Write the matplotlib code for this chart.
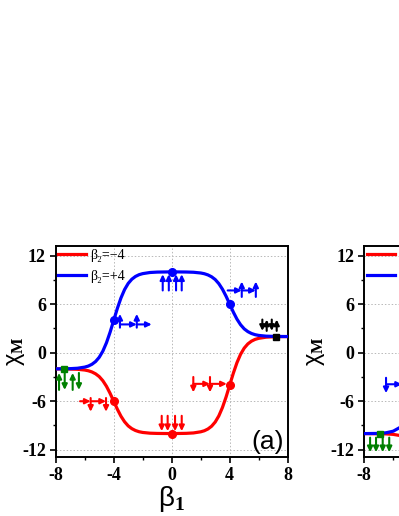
import matplotlib
matplotlib.use("Agg")
import matplotlib.pyplot as plt
from matplotlib.ticker import MultipleLocator

plt.rcParams['mathtext.fontset'] = 'custom'
plt.rcParams['mathtext.rm'] = 'Liberation Sans'
plt.rcParams['mathtext.it'] = 'Liberation Sans:italic'
plt.rcParams['mathtext.bf'] = 'Liberation Serif:bold'

# ---------------- data ----------------
beta1 = [-8, -7, -6.5, -6, -5.75, -5.5, -5.25, -5, -4.75, -4.5, -4.25, -4,
         -3.75, -3.5, -3.25, -3, -2.75, -2.5, -2.25, -2, -1.5, -1, 0,
         1, 1.5, 2, 2.25, 2.5, 2.75, 3, 3.25, 3.5, 3.75, 4, 4.25, 4.5, 4.75,
         5, 5.25, 5.5, 5.75, 6, 6.5, 7, 8]
chi_blue = [-2.0, -1.97, -1.92, -1.78, -1.65, -1.43, -1.09, -0.57, 0.19, 1.23, 2.53, 4.0,
            5.47, 6.77, 7.81, 8.57, 9.09, 9.43, 9.65, 9.78, 9.92, 9.97, 10.0,
            9.98, 9.95, 9.86, 9.77, 9.62, 9.39, 9.05, 8.54, 7.85, 6.98, 6.0, 5.02, 4.15, 3.46,
            2.95, 2.61, 2.38, 2.23, 2.14, 2.05, 2.02, 2.0]
chi_red = [-2.0, -2.02, -2.05, -2.14, -2.23, -2.38, -2.61, -2.95, -3.46, -4.15, -5.02, -6.0,
           -6.98, -7.85, -8.54, -9.05, -9.39, -9.62, -9.77, -9.86, -9.95, -9.98, -10.0,
           -9.97, -9.92, -9.78, -9.65, -9.43, -9.09, -8.57, -7.81, -6.77, -5.47, -4.0, -2.53, -1.23, -0.19,
           0.57, 1.09, 1.43, 1.65, 1.78, 1.92, 1.97, 2.0]

# panel (b) (only its left edge is visible)
beta1_b = [-8, -7, -6.5, -6, -5.5, -5]
chi_blue_b = [-10.0, -9.98, -9.9, -9.7, -9.2, -8.3]
chi_red_b = [-10.0, -10.02, -10.04, -10.1, -10.25, -10.6]

legend_labels = ['β₂=−4', 'β₂=+4']
xticks = [-8, -4, 0, 4, 8]
yticks = [-12, -6, 0, 6, 12]

# highlighted states (x, chi)
dots_blue = [(-4, 4), (0, 10), (4, 6)]
dots_red = [(-4, -6), (0, -10), (4, -4)]
sq_green = (-7.41, -2.0)
sq_black = (7.17, 2.0)
sq_green_b = (-6.92, -10.0)

# spin-arrow glyphs: (x_tail, y_tail, x_head, y_head, colour)
spins_a = [
    # green, left end
    (-7.77, -4.6, -7.77, -2.5, 'green'), (-7.38, -2.5, -7.38, -4.6, 'green'),
    (-6.83, -4.6, -6.83, -2.5, 'green'), (-6.40, -2.5, -6.40, -4.6, 'green'),
    # blue at beta1=-4
    (-3.57, 3.1, -3.57, 4.8, 'blue'), (-2.41, 3.1, -2.41, 4.8, 'blue'),
    (-3.57, 3.5, -2.41, 3.5, 'blue'), (-2.41, 3.5, -1.38, 3.5, 'blue'),
    # blue at 0
    (-0.62, 7.7, -0.62, 9.7, 'blue'), (-0.2, 7.7, -0.2, 9.7, 'blue'),
    (0.3, 7.7, 0.3, 9.7, 'blue'), (0.69, 7.7, 0.69, 9.7, 'blue'),
    # blue at 4
    (3.86, 7.7, 4.83, 7.7, 'blue'), (4.83, 7.7, 5.8, 7.7, 'blue'),
    (4.83, 6.9, 4.83, 8.8, 'blue'), (5.8, 6.9, 5.8, 8.8, 'blue'),
    # black, right end
    (6.25, 4.1, 6.25, 2.7, 'black'), (6.55, 2.7, 6.55, 4.1, 'black'),
    (6.9, 4.1, 6.9, 2.7, 'black'), (7.24, 2.7, 7.24, 4.1, 'black'),
    # red at -4
    (-6.32, -6.0, -5.59, -6.0, 'red'), (-5.59, -6.0, -4.53, -6.0, 'red'),
    (-5.59, -5.6, -5.59, -7.3, 'red'), (-4.53, -5.6, -4.53, -7.3, 'red'),
    # red at 0
    (-0.69, -7.8, -0.69, -9.7, 'red'), (-0.28, -7.8, -0.28, -9.7, 'red'),
    (0.23, -7.8, 0.23, -9.7, 'red'), (0.69, -7.8, 0.69, -9.7, 'red'),
    # red at 4
    (1.49, -3.0, 1.49, -4.9, 'red'), (2.64, -3.0, 2.64, -4.9, 'red'),
    (1.49, -3.85, 2.64, -3.85, 'red'), (2.64, -3.85, 3.8, -3.85, 'red'),
]
spins_b = [
    (-7.6, -10.5, -7.6, -12.3, 'green'), (-7.19, -10.5, -7.19, -12.3, 'green'),
    (-6.73, -10.5, -6.73, -12.3, 'green'), (-6.28, -10.5, -6.28, -12.3, 'green'),
    (-6.5, -3.1, -6.5, -5.0, 'blue'), (-6.5, -3.9, -5.4, -3.9, 'blue'),
]

GREEN = '#008000'
cmap = {'green': GREEN, 'blue': '#0000ff', 'red': '#ff0000', 'black': 'black'}

fig = plt.figure(figsize=(3.99, 5.16), dpi=100)
ax = fig.add_axes([0.1396, 0.1138, 0.5815, 0.4095])
axb = fig.add_axes([0.9130, 0.1138, 0.5815, 0.4095])

tick_font = dict(family='Liberation Serif', weight='bold', size=13)


def style(a, xlabels, ylab_x):
    a.set_xlim(-8, 8)
    a.set_ylim(-12.93, 13.2)
    a.set_xticks(xticks)
    a.set_yticks(yticks)
    a.set_xticklabels(xlabels, fontdict=tick_font)
    a.set_yticklabels([str(v) for v in yticks], fontdict=tick_font)
    a.xaxis.set_minor_locator(MultipleLocator(2))
    a.yaxis.set_minor_locator(MultipleLocator(3))
    a.tick_params(which='major', direction='out', length=4.5, width=1.2, pad=2.5)
    a.tick_params(which='minor', direction='out', length=2.5, width=1.0)
    a.tick_params(top=False, right=False, which='both')
    for s in a.spines.values():
        s.set_linewidth(1.4)
    a.grid(True, which='major', linestyle=(0, (1.5, 2)), color='#b8b8b8', linewidth=0.7)
    a.set_axisbelow(True)
    a.set_ylabel(r'$\mathrm{\chi}_{\mathbf{M}}$', fontsize=17)
    a.yaxis.set_label_coords(ylab_x, 0.5)


def draw_spins(a, spins):
    for x0, y0, x1, y1, c in spins:
        a.annotate('', xy=(x1, y1), xytext=(x0, y0),
                   arrowprops=dict(arrowstyle='-|>,head_length=0.45,head_width=0.22',
                                   color=cmap[c], lw=1.5, mutation_scale=7,
                                   shrinkA=0, shrinkB=0), zorder=4)


# ---------------- panel (a) ----------------
style(ax, [str(v) for v in xticks], -0.125)
l1, = ax.plot(beta1, chi_red, color='#ff0000', lw=2.3, zorder=3)
l2, = ax.plot(beta1, chi_blue, color='#0000ff', lw=2.3, zorder=3)
ax.plot([p[0] for p in dots_blue], [p[1] for p in dots_blue], 'o', color='#0000ff', ms=5.5, zorder=5)
ax.plot([p[0] for p in dots_red], [p[1] for p in dots_red], 'o', color='#ff0000', ms=5.5, zorder=5)
ax.plot([sq_green[0]], [sq_green[1]], 's', color=GREEN, ms=5, zorder=5)
ax.plot([sq_black[0]], [sq_black[1]], 's', color='black', ms=5, zorder=5)
draw_spins(ax, spins_a)
ax.legend([l1, l2], legend_labels, loc='upper left', bbox_to_anchor=(0.011, 0.985),
          frameon=False, borderpad=0, borderaxespad=0, handlelength=2.0,
          handletextpad=0.3, labelspacing=0.55,
          prop=dict(family=['Liberation Serif', 'DejaVu Serif'], size=10))
ax.text(0.985, 0.015, '(a)', transform=ax.transAxes, ha='right', va='bottom',
        family='Liberation Sans', fontsize=19)
ax.set_xlabel(r'$\mathrm{\beta}_{\mathbf{1}}$', fontsize=20, labelpad=0)

# ---------------- panel (b), cut by the figure edge ----------------
style(axb, ['-8', '', '', '', ''], -0.16)
m1, = axb.plot(beta1_b, chi_red_b, color='#ff0000', lw=2.3, zorder=3)
m2, = axb.plot(beta1_b, chi_blue_b, color='#0000ff', lw=2.3, zorder=3)
axb.plot([sq_green_b[0]], [sq_green_b[1]], 's', color=GREEN, ms=5, zorder=5)
draw_spins(axb, spins_b)
axb.legend([m1, m2], legend_labels, loc='upper left', bbox_to_anchor=(0.011, 0.985),
           frameon=False, borderpad=0, borderaxespad=0, handlelength=2.0,
           handletextpad=0.3, labelspacing=0.55,
           prop=dict(family=['Liberation Serif', 'DejaVu Serif'], size=10))

fig.savefig('out.png', dpi=100)
